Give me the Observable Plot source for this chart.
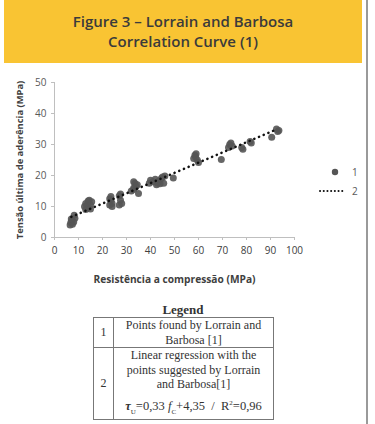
<!DOCTYPE html>
<html>
<head>
<meta charset="utf-8">
<script src="https://cdn.jsdelivr.net/npm/d3@7"></script>
<script src="https://cdn.jsdelivr.net/npm/@observablehq/plot@0.6"></script>
<style>
  html, body { margin: 0; padding: 0; background: #fff; }
  #page { position: relative; width: 375px; height: 424px; overflow: hidden; }
  #border { position: absolute; left: 366px; top: 0; width: 1.5px; height: 424px; background: #9a9a9a; }
  #banner {
    position: absolute; left: 4px; top: 0px; width: 358px; height: 63px;
    background: #f9c433; color: #3b3b3b;
    font-family: "Open Sans", sans-serif; font-weight: 600; font-size: 15px;
    line-height: 20px; text-align: center; box-sizing: border-box; padding-top: 11px;
  }
  #chart { position: absolute; left: 0; top: 70px; }
  #chart g[aria-label="x-axis label"] text { font-weight: bold; fill: #404040; font-size: 10.2px; }
  #legend { position: absolute; left: 316px; top: 163px; }
  #legendTitle {
    position: absolute; left: 93px; top: 302px; width: 180px; text-align: center;
    font-family: "Liberation Serif", serif; font-weight: bold; font-size: 13px; color: #333;
  }
  #table {
    position: absolute; left: 93px; top: 317px; width: 181px; border-collapse: collapse;
    font-family: "Liberation Serif", serif; font-size: 12px; color: #333; line-height: 14.5px;
  }
  #table td { border: 1.2px solid #777; text-align: center; vertical-align: middle; padding: 0 1px; }
  #table td.num { width: 17px; }
</style>
</head>
<body>
<div id="page">
  <div id="banner">Figure 3 – Lorrain and Barbosa<br>Correlation Curve (1)</div>
  <div id="chart"></div>
  <svg id="legend" width="50" height="36"></svg>
  <div id="legendTitle">Legend</div>
  <table id="table">
    <tr style="height:30px"><td class="num">1</td><td>Points found by Lorrain and<br>Barbosa [1]</td></tr>
    <tr style="height:69px"><td class="num">2</td><td>Linear regression with the<br>points suggested by Lorrain<br>and Barbosa[1]<div style="margin-top:4px;font-size:12.5px"><b><i>τ</i></b><sub style="font-size:7px">U</sub>=0,33 <i>f</i><sub style="font-size:7px">C</sub>+4,35 &nbsp;/&nbsp; R<sup style="font-size:7px">2</sup>=0,96</div></td></tr>
  </table>
  <div id="border"></div>
</div>
<script>
// Compressive strength (MPa) of each specimen
const strength = [
  6.5, 6.8, 7.2, 7.5, 8.0, 7.0, 8.2, 8.5,
  12.5, 13.0, 13.5, 14.0, 14.5, 15.0, 15.5, 14.0, 13.0, 15.0,
  23.0, 23.5, 23.5, 24.0, 23.0, 24.0,
  27.0, 27.5, 27.0, 28.0, 27.5,
  32.0, 33.0, 33.5, 34.0, 33.0, 34.5, 35.0, 33.0,
  39.5, 40.0, 41.0, 42.0, 43.0, 43.5, 44.0, 45.0, 45.5, 46.0, 42.5, 44.5,
  49.5,
  58.0, 58.5, 59.0, 59.5, 60.0, 58.8,
  69.5,
  72.5, 73.0, 73.5, 74.0,
  78.0, 78.5,
  81.5, 82.0,
  90.5,
  93.0, 93.5, 92.5
];
// Ultimate bond stress (MPa) of each specimen
const bondStress = [
  4.0, 4.8, 5.5, 4.3, 5.0, 6.0, 7.2, 6.2,
  10.0, 11.0, 10.5, 11.8, 12.0, 10.5, 11.5, 9.5, 9.0, 9.2,
  10.5, 12.0, 13.2, 11.0, 12.5, 10.0,
  10.5, 12.0, 13.5, 11.0, 14.0,
  15.0, 16.0, 17.5, 16.5, 18.0, 17.0, 14.2, 15.5,
  17.5, 18.5, 18.0, 18.8, 17.5, 18.2, 17.3, 19.5, 17.5, 19.8, 17.0, 19.0,
  19.2,
  25.5, 26.5, 27.0, 25.0, 24.2, 26.0,
  25.2,
  29.0, 30.0, 30.5, 29.5,
  29.0, 28.5,
  31.0, 30.5,
  32.3,
  34.2, 34.5, 35.0
];
// Fitted line: tau = slope * fc + intercept, over the tested range
const slope = 0.33;
const intercept = 4.35;
const fitRange = [7, 93];

const xTicks = [0, 10, 20, 30, 40, 50, 60, 70, 80, 90, 100];
const yTicks = [0, 10, 20, 30, 40, 50];
const xTitle = "Resistência a compressão (MPa)";
const yTitle = "Tensão última de aderência (MPa)";
const seriesNames = ["1", "2"];

const points = strength.map((fc, i) => ({fc, tau: bondStress[i]}));
const fit = fitRange.map(fc => ({fc, tau: slope * fc + intercept}));

const axisStyle = {stroke: "#bfbfbf", color: "#595959", tickSize: 3};

const chart = Plot.plot({
  width: 375,
  height: 220,
  marginLeft: 54,
  marginRight: 81,
  marginTop: 12,
  marginBottom: 53,
  style: {fontFamily: "Open Sans, sans-serif", fontSize: "10px", color: "#595959", background: "transparent"},
  x: {domain: [0, 100]},
  y: {domain: [0, 50]},
  marks: [
    Plot.axisX({ticks: xTicks, ...axisStyle, tickPadding: 6, label: xTitle, labelAnchor: "center", labelOffset: 45, labelArrow: "none", fill: "#404040"}),
    Plot.axisY({ticks: yTicks, ...axisStyle, tickPadding: 5, label: null}),
    // vertical axis title, rotated beside the tick labels
    Plot.text([yTitle], {frameAnchor: "left", textAnchor: "middle", lineAnchor: "middle", rotate: -90, dx: -35, fontWeight: "bold", fontSize: 9.4, fill: "#404040"}),
    Plot.ruleY([0], {stroke: "#bfbfbf"}),
    Plot.ruleX([0], {stroke: "#bfbfbf"}),
    Plot.dot(points, {x: "fc", y: "tau", r: 3.5, fill: "#555555", fillOpacity: 0.9}),
    Plot.line(fit, {x: "fc", y: "tau", stroke: "#111", strokeWidth: 2.6, strokeDasharray: "0.1 5", strokeLinecap: "round"})
  ]
});
document.getElementById("chart").append(chart);

// Series key
const key = d3.select("#legend");
key.append("circle").attr("cx", 19).attr("cy", 9).attr("r", 3.2).attr("fill", "#555");
key.append("line").attr("x1", 4).attr("x2", 29).attr("y1", 28).attr("y2", 28)
  .attr("stroke", "#111").attr("stroke-width", 2).attr("stroke-dasharray", "0.1 3.6").attr("stroke-linecap", "round");
key.selectAll("text").data(seriesNames).join("text")
  .attr("x", 36).attr("y", (d, i) => 12.5 + i * 19)
  .attr("font-family", "Open Sans, sans-serif").attr("font-size", "10px").attr("fill", "#595959")
  .text(d => d);
</script>
</body>
</html>
